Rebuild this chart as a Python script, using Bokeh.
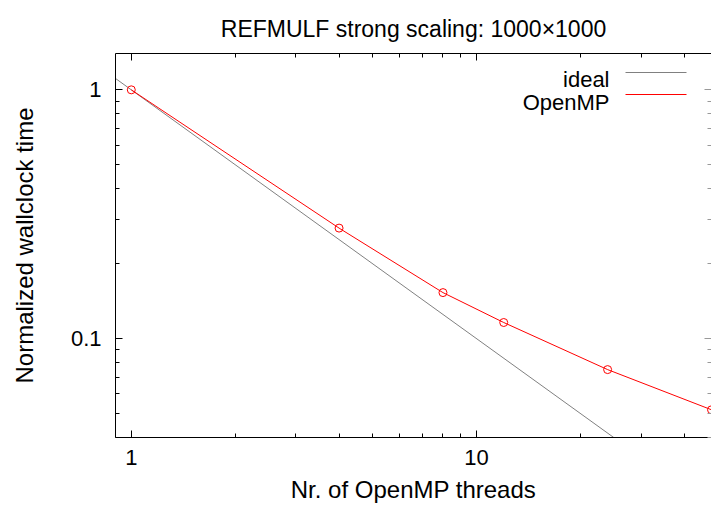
from bokeh.plotting import figure
from bokeh.models import FixedTicker, LogAxis, Label, Range1d, Arrow
from bokeh.embed import file_html
from bokeh.resources import INLINE

# ---- data ----
threads = [1, 4, 8, 12, 24, 48]
openmp_time = [1.0, 0.278, 0.153, 0.116, 0.075, 0.0517]
ideal_threads = [0.9, 48]
ideal_time = [1 / 0.9, 1 / 48]

x_major = [1, 10]
x_minor = [2, 3, 4, 5, 6, 7, 8, 9, 20, 30, 40]
y_major = [0.1, 1]
y_minor = [0.04, 0.05, 0.06, 0.07, 0.08, 0.09, 0.2, 0.3, 0.4, 0.5, 0.6, 0.7, 0.8, 0.9]
x_tick_labels = ["1", "10"]
y_tick_labels = ["0.1", "1"]

title = "REFMULF strong scaling: 1000\u00d71000"
x_title = "Nr. of OpenMP threads"
y_title = "Normalized wallclock time"
series_names = ["ideal", "OpenMP"]

FONT = "Liberation Sans"

p = figure(width=711, height=508, x_axis_type="log", y_axis_type="log",
           x_range=Range1d(0.9, 48), y_range=Range1d(0.04, 1.4),
           output_backend="svg", toolbar_location=None,
           min_border_left=115, min_border_right=0,
           min_border_top=53, min_border_bottom=71,
           title=title)
p.outline_line_color = None
p.xgrid.visible = False
p.ygrid.visible = False
p.background_fill_color = "white"
p.border_fill_color = "white"

p.title.text_font = FONT
p.title.text_font_size = "23px"
p.title.text_font_style = "normal"
p.title.align = "center"
p.title.text_color = "black"
p.title.standoff = 24

def style(ax, major, minor):
    ax.ticker = FixedTicker(ticks=major, minor_ticks=minor)
    ax.major_tick_in = 7
    ax.major_tick_out = 0
    ax.minor_tick_in = 4
    ax.minor_tick_out = 0
    ax.axis_line_color = "black"
    ax.major_tick_line_color = "black"
    ax.minor_tick_line_color = "black"
    ax.major_label_text_font = FONT
    ax.major_label_text_font_size = "22px"
    ax.major_label_text_color = "black"
    ax.axis_label_text_font = FONT
    ax.axis_label_text_font_size = "24px"
    ax.axis_label_text_font_style = "normal"
    ax.axis_label_text_color = "black"

xa = p.xaxis[0]
ya = p.yaxis[0]
style(xa, x_major, x_minor)
style(ya, y_major, y_minor)
xa.major_label_overrides = {v: s for v, s in zip(x_major, x_tick_labels)}
ya.major_label_overrides = {v: s for v, s in zip(y_major, y_tick_labels)}
xa.axis_label = x_title
ya.axis_label = y_title
xa.major_label_standoff = 12
xa.axis_label_standoff = 8
ya.major_label_standoff = 14
ya.axis_label_standoff = 30

top = LogAxis()
style(top, x_major, x_minor)
top.major_label_text_font_size = "1px"
top.major_label_text_alpha = 0
top.major_label_standoff = 0
p.add_layout(top, "above")

right = LogAxis()
style(right, y_major, y_minor)
right.major_label_text_font_size = "1px"
right.major_label_text_alpha = 0
right.major_label_standoff = 0
right.axis_line_color = None
right.major_tick_line_color = "#999999"
right.minor_tick_line_color = "#999999"
p.add_layout(right, "right")

# ---- series ----
p.line(ideal_threads, ideal_time, line_color="#808080", line_width=1)
p.line(threads, openmp_time, line_color="red", line_width=1)
p.scatter(threads, openmp_time, marker="circle", size=8,
          fill_color=None, line_color="red", line_width=1)

# ---- legend (gnuplot style: text then sample line) ----
legend_colors = ["#808080", "red"]
legend_text_y = [358, 335]
legend_line_y = [365, 343]
for name, col, ty, ly in zip(series_names, legend_colors, legend_text_y, legend_line_y):
    p.add_layout(Label(x=494, y=ty, x_units="screen", y_units="screen", text=name,
                       text_align="right", text_baseline="alphabetic",
                       text_font=FONT, text_font_size="22px", text_color="black"))
    p.add_layout(Arrow(x_start=510, y_start=ly, x_end=571, y_end=ly,
                       start_units="screen", end_units="screen",
                       line_color=col, line_width=1, end=None))

open("out.html", "w").write(file_html(p, INLINE))
